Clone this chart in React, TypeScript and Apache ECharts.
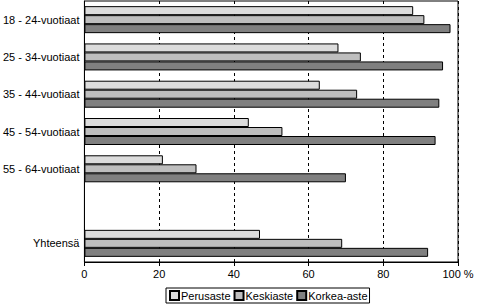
import React, { useEffect, useRef } from "react";
import * as echarts from "echarts";

const categories = ["18 - 24-vuotiaat", "25 - 34-vuotiaat", "35 - 44-vuotiaat", "45 - 54-vuotiaat", "55 - 64-vuotiaat", "", "Yhteensä"];
const seriesNames = ["Perusaste", "Keskiaste", "Korkea-aste"];
const perusaste = [88, 68, 63, 44, 21, null, 47];
const keskiaste = [91, 74, 73, 53, 30, null, 69];
const korkeaAste = [98, 96, 95, 94, 70, null, 92];
const xTicks = [0, 20, 40, 60, 80, 100];
const colors = ["#dcdcdc", "#bebebe", "#808080"];

export default function App() {
  const ref = useRef<HTMLDivElement>(null);
  useEffect(() => {
    if (!ref.current) return;
    const chart = echarts.init(ref.current, undefined, { renderer: "svg" });
    const font = { fontFamily: "Liberation Sans, Arial, sans-serif", fontSize: 11, color: "#000" };
    const values = [perusaste, keskiaste, korkeaAste];
    chart.setOption({
      animation: false,
      grid: { left: 84, top: 1, right: 30, bottom: 44, show: true, borderColor: "#000", borderWidth: 1, backgroundColor: "transparent" },
      legend: {
        data: seriesNames,
        left: 166,
        top: 288,
        orient: "horizontal",
        itemWidth: 9,
        itemHeight: 9,
        itemGap: 3,
        padding: [2, 2, 2, 3],
        borderColor: "#000",
        borderWidth: 1,
        textStyle: { ...font, padding: [0, 0, 0, -3] },
        icon: "rect",
      },
      xAxis: {
        type: "value",
        min: xTicks[0],
        max: xTicks[xTicks.length - 1],
        interval: 20,
        axisLine: { show: true, lineStyle: { color: "#000" } },
        axisTick: { show: true, length: 4, lineStyle: { color: "#000" } },
        axisLabel: { ...font, margin: 6, formatter: (v: number) => (v === 100 ? "100 %" : String(v)) },
        splitLine: { show: true, lineStyle: { color: "#000", type: [3, 3] } },
      },
      yAxis: {
        type: "category",
        data: categories,
        inverse: true,
        axisLine: { show: true, lineStyle: { color: "#000" } },
        axisTick: { show: false },
        axisLabel: { ...font, margin: 5 },
      },
      series: seriesNames.map((name, i) => ({
        name,
        type: "bar",
        data: values[i],
        barWidth: 9,
        barGap: "0%",
        itemStyle: { color: colors[i], borderColor: "#000", borderWidth: 1 },
      })),
    });
    return () => chart.dispose();
  }, []);
  return <div ref={ref} style={{ width: 488, height: 306, position: "absolute", left: 0, top: 0 }} />;
}
